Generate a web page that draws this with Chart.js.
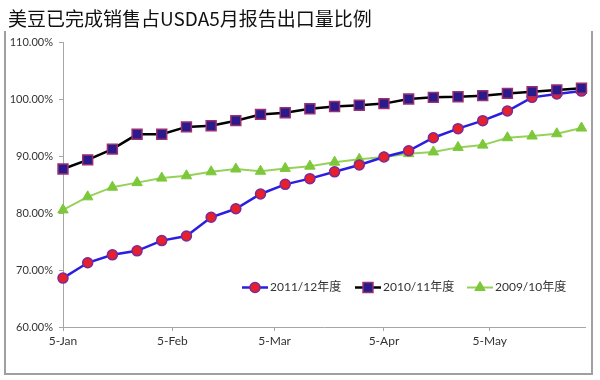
<!DOCTYPE html>
<html>
<head>
<meta charset="utf-8">
<script src="https://cdn.jsdelivr.net/npm/chart.js@4"></script>
<style>
    html, body { margin: 0; padding: 0; background: #fff; }
    #wrap { width: 600px; height: 380px; position: relative; }
</style>
</head>
<body>
<div id="wrap"><canvas id="line-chart"></canvas></div>
<script>
// days counted from 5-Jan (weekly reports)
const days = [0, 7, 14, 21, 28, 35, 42, 49, 56, 63, 70, 77, 84, 91, 98, 105, 112, 119, 126, 133, 140, 147];

// % of USDA May export estimate already sold
const season1112 = [68.6, 71.3, 72.7, 73.4, 75.2, 76.0, 79.3, 80.8, 83.4, 85.1, 86.1, 87.3, 88.5, 89.9, 91.0, 93.3, 94.9, 96.3, 98.0, 100.4, 101.0, 101.5];
const season1011 = [87.8, 89.4, 91.3, 93.9, 93.9, 95.2, 95.4, 96.3, 97.4, 97.7, 98.4, 98.8, 99.0, 99.3, 100.1, 100.4, 100.5, 100.7, 101.1, 101.4, 101.7, 102.0];
const season0910 = [80.6, 82.9, 84.6, 85.4, 86.2, 86.6, 87.3, 87.8, 87.4, 87.9, 88.3, 89.0, 89.5, 89.9, 90.5, 90.8, 91.6, 92.0, 93.3, 93.6, 94.0, 95.0];

const seriesNames = ['2011/12年度', '2010/11年度', '2009/10年度'];

// x-axis tick positions (days from 5-Jan, 2012) and labels
const xTickDays = [0, 31, 60, 91, 121];
const xTickLabels = ['5-Jan', '5-Feb', '5-Mar', '5-Apr', '5-May'];

const yTicks = [60, 70, 80, 90, 100, 110];

const FONT = "Lato, 'Noto Sans CJK SC', sans-serif";

function toPoints(values) {
    return values.map((v, i) => ({ x: days[i], y: v }));
}

// frame around the chart + white background
const framePlugin = {
    id: 'frame',
    beforeDraw(chart) {
        const ctx = chart.ctx;
        ctx.save();
        ctx.fillStyle = '#fff';
        ctx.fillRect(0, 0, chart.width, chart.height);
        ctx.restore();
    },
    afterDraw(chart) {
        const ctx = chart.ctx;
        ctx.save();
        ctx.strokeStyle = '#a0a0a0';
        ctx.lineWidth = 2;
        ctx.beginPath();
        ctx.moveTo(5, 31);
        ctx.lineTo(5, 374);
        ctx.lineTo(592, 374);
        ctx.lineTo(592, 31);
        ctx.stroke();
        ctx.restore();
    }
};

// legend drawn inside the plot area, bottom right
const insideLegend = {
    id: 'insideLegend',
    afterDatasetsDraw(chart) {
        const ctx = chart.ctx;
        const y = 287.5;
        const starts = [242, 355, 467];
        ctx.save();
        chart.data.datasets.forEach((ds, i) => {
            const x0 = starts[i];
            ctx.strokeStyle = ds.borderColor;
            ctx.lineWidth = ds.borderWidth;
            ctx.beginPath();
            ctx.moveTo(x0, y);
            ctx.lineTo(x0 + 26, y);
            ctx.stroke();
            ctx.fillStyle = ds.pointBackgroundColor;
            ctx.strokeStyle = ds.pointBorderColor;
            ctx.lineWidth = ds.pointBorderWidth;
            Chart.helpers.drawPoint(ctx, {
                pointStyle: ds.pointStyle,
                radius: ds.pointRadius,
                borderWidth: ds.pointBorderWidth,
                rotation: 0
            }, x0 + 13, y);
            ctx.fillStyle = '#333';
            ctx.font = '12px ' + FONT;
            ctx.textBaseline = 'middle';
            ctx.fillText(ds.label, x0 + 28, y);
        });
        ctx.restore();
    }
};

const lineChart = document.getElementById('line-chart');

new Chart(lineChart, {
    type: 'line',
    data: {
        datasets: [
            {
                label: seriesNames[0],
                data: toPoints(season1112),
                borderColor: '#2a1ee0',
                borderWidth: 2.5,
                pointStyle: 'circle',
                pointRadius: 5,
                pointBackgroundColor: '#e8202a',
                pointBorderColor: '#7a2a9a',
                pointBorderWidth: 1.5,
                order: 1
            },
            {
                label: seriesNames[1],
                data: toPoints(season1011),
                borderColor: '#000',
                borderWidth: 2.5,
                pointStyle: 'rect',
                pointRadius: 7,
                pointBackgroundColor: '#2a1a8c',
                pointBorderColor: '#9a3070',
                pointBorderWidth: 1.5,
                order: 0
            },
            {
                label: seriesNames[2],
                data: toPoints(season0910),
                borderColor: '#96d25a',
                borderWidth: 2,
                pointStyle: 'triangle',
                pointRadius: 6,
                pointBackgroundColor: '#7cc83a',
                pointBorderColor: '#7cc83a',
                pointBorderWidth: 1,
                order: 2
            }
        ]
    },
    options: {
        responsive: true,
        maintainAspectRatio: false,
        animation: false,
        clip: false,
        layout: {
            padding: { left: 8, right: 15, top: 0, bottom: 0 }
        },
        scales: {
            x: {
                type: 'linear',
                min: 0,
                max: 148,
                afterBuildTicks: scale => {
                    scale.ticks = xTickDays.map(v => ({ value: v }));
                },
                afterFit: scale => { scale.height = 53; },
                ticks: {
                    autoSkip: false,
                    maxRotation: 0,
                    padding: 3,
                    color: '#333',
                    font: { family: FONT, size: 12 },
                    callback: value => xTickLabels[xTickDays.indexOf(value)]
                },
                grid: {
                    drawOnChartArea: false,
                    tickLength: 4,
                    color: '#a6a6a6'
                },
                border: { color: '#a6a6a6', width: 1 }
            },
            y: {
                min: 60,
                max: 110,
                afterBuildTicks: scale => {
                    scale.ticks = yTicks.map(v => ({ value: v }));
                },
                afterFit: scale => { scale.width = 55; },
                ticks: {
                    padding: 6,
                    color: '#333',
                    font: { family: FONT, size: 11 },
                    callback: value => value.toFixed(2) + '%'
                },
                grid: {
                    drawOnChartArea: false,
                    tickLength: 4,
                    color: '#a6a6a6'
                },
                border: { color: '#a6a6a6', width: 1 }
            }
        },
        plugins: {
            title: {
                display: true,
                text: '美豆已完成销售占USDA5月报告出口量比例',
                align: 'start',
                color: '#111',
                font: { family: "'Noto Sans CJK SC', sans-serif", size: 19, weight: 'normal', lineHeight: 1.2 },
                padding: { top: 7, bottom: 13 }
            },
            legend: { display: false },
            tooltip: { enabled: false }
        }
    },
    plugins: [framePlugin, insideLegend]
});
</script>
</body>
</html>
